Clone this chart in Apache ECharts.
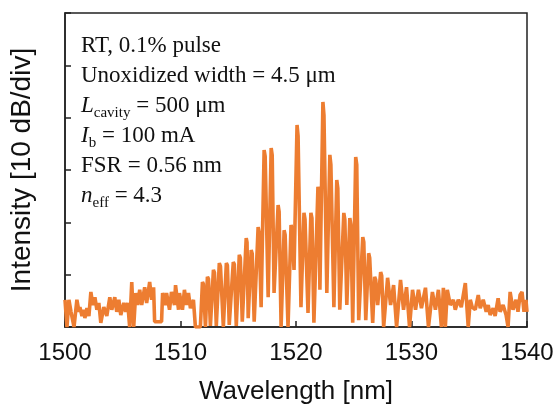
<!DOCTYPE html>
<html>
<head>
<meta charset="utf-8">
<script src="https://cdn.jsdelivr.net/npm/echarts@6/dist/echarts.min.js"></script>
<style>
  html, body { margin: 0; padding: 0; background: #fff; }
  #chart { width: 560px; height: 413px; }
</style>
</head>
<body>
<div id="chart"></div>
<script>
// spectrum: wavelength [nm] and intensity [dB above floor]
const wavelength = [
  // noise floor, short side
  1500.00, 1500.17, 1500.34, 1500.52, 1500.78, 1501.03, 1501.21, 1501.29, 1501.47, 1501.64,
  1501.72, 1501.90, 1502.07, 1502.24, 1502.41, 1502.59, 1502.76, 1502.93, 1503.10, 1503.36,
  1503.62, 1503.88, 1504.05, 1504.31, 1504.48, 1504.66, 1504.83, 1505.09, 1505.26, 1505.43,
  1505.60, 1505.78, 1505.95, 1506.12, 1506.29, 1506.47, 1506.64, 1506.90, 1507.07, 1507.33,
  1507.50, 1507.67, 1507.76, 1508.36, 1508.45, 1508.71, 1508.79, 1509.05, 1509.22, 1509.48,
  1509.57, 1509.83, 1509.91, 1510.17, 1510.34, 1510.52, 1510.69, 1510.86, 1511.12, 1511.29,
  1511.72,
  // longitudinal modes
  1511.90, 1511.98, 1512.16, 1512.33, 1512.42, 1512.59, 1512.85, 1512.94, 1513.10,
  1513.36, 1513.46, 1513.71, 1513.97, 1514.06, 1514.22, 1514.57, 1514.66, 1514.83,
  1515.09, 1515.18, 1515.35, 1515.69, 1515.76, 1515.86, 1516.12, 1516.21, 1516.38,
  1516.72, 1516.81, 1516.98, 1517.24, 1517.33, 1517.59, 1517.85, 1517.94, 1518.10,
  1518.45, 1518.54, 1518.71, 1518.97, 1519.06, 1519.31, 1519.57, 1519.66, 1519.83,
  1520.09, 1520.18, 1520.43, 1520.69, 1520.78, 1521.04, 1521.29, 1521.38, 1521.55,
  1521.90, 1521.97, 1522.07, 1522.33, 1522.42, 1522.67, 1522.93, 1523.02, 1523.28,
  1523.53, 1523.62, 1523.79, 1524.14, 1524.23, 1524.40, 1524.66, 1524.75, 1524.91,
  1525.17, 1525.26, 1525.43, 1525.78, 1525.87, 1526.04, 1526.29, 1526.38, 1526.64,
  1526.81, 1526.90, 1527.07, 1527.33, 1527.42, 1527.59,
  // noise floor, long side
  1527.93, 1528.19, 1528.45, 1528.71, 1529.05, 1529.31, 1529.57, 1529.83, 1530.09, 1530.35,
  1530.60, 1530.86, 1531.21, 1531.47, 1531.81, 1532.07, 1532.33, 1532.59, 1532.76, 1532.93,
  1533.10, 1533.36, 1533.62, 1533.79, 1534.05, 1534.31, 1534.66, 1534.91, 1535.09, 1535.26,
  1535.52, 1535.78, 1535.95, 1536.21, 1536.47, 1536.64, 1536.81, 1537.07, 1537.24, 1537.50,
  1537.67, 1537.93, 1538.19, 1538.36, 1538.54, 1538.79, 1539.05, 1539.22, 1539.40, 1539.57,
  1539.74, 1539.91, 1540.00
];
const intensity = [
  5.2, 0, 5.2, 2.9, 0, 5.2, 2.9, 3.8, 2.1, 3.3,
  1.7, 3.6, 2.1, 6.7, 4.2, 5.7, 3.3, 4.6, 0.8, 3.8,
  2.1, 5.7, 3.3, 5.7, 2.9, 5.2, 2.3, 4.6, 2.9, 4.6,
  0, 8.6, 0, 6.5, 4.2, 7.1, 4.2, 7.6, 4.6, 8.6,
  5.2, 7.6, 1.0, 1.0, 6.5, 4.2, 6.5, 3.3, 6.7, 4.2,
  8.0, 3.3, 6.5, 3.3, 7.1, 4.2, 6.5, 3.6, 5.2, 0,
  0,

  8.6, 8.2, 0, 9.6, 9.2, 0.2, 10.9, 10.4, 0.2,
  12.2, 11.6, 0, 12.2, 11.8, 0.4, 12.4, 12.0, 0.2,
  13.8, 13.2, 1.0, 17.0, 16.2, 1.7, 14.7, 14.0, 1.0,
  19.1, 18.0, 3.8, 33.8, 32.6, 5.7, 34.2, 32.8, 6.5,
  23.3, 22.0, 0, 18.5, 17.6, 0, 19.5, 18.6, 10.9,
  38.6, 36.5, 3.8, 21.8, 20.6, 2.7, 21.8, 20.8, 0.8,
  26.8, 25.0, 7.1, 43.0, 40.5, 6.5, 32.9, 31.0, 3.8,
  28.1, 26.5, 3.3, 21.8, 20.5, 4.2, 20.8, 19.6, 0.8,
  32.5, 31.0, 1.3, 17.2, 16.2, 1.3, 14.1, 13.2, 0.8,
  9.6, 9.0, 4.2, 10.5, 9.8, 0,

  9.4, 4.2, 8.0, 0, 9.0, 3.3, 7.6, 0, 7.1, 3.3,
  7.1, 3.6, 7.5, 0, 6.7, 3.3, 7.1, 0, 7.5, 0,
  7.1, 4.2, 5.2, 3.3, 5.2, 3.8, 8.4, 0, 5.2, 3.8,
  3.3, 6.1, 3.6, 5.2, 2.9, 4.2, 2.3, 3.6, 2.1, 5.5,
  2.9, 4.2, 2.3, 0, 6.7, 3.3, 5.2, 2.9, 6.1, 6.7,
  2.9, 5.2, 2.9
];

const xMin = 1500, xMax = 1540, xStep = 10;
const yMin = 0, yMax = 60, yStep = 10;   // 10 dB/div, 6 divisions

const notes = [
  'RT, 0.1% pulse',
  'Unoxidized width = 4.5 μm',
  '{i|L}{s|cavity} = 500 μm',
  '{i|I}{s|b} = 100 mA',
  'FSR = 0.56 nm',
  '{i|n}{s|eff} = 4.3'
];

const serif = '"Liberation Serif", "Times New Roman", serif';
const sans = '"Liberation Sans", Arial, sans-serif';

const chart = echarts.init(document.getElementById('chart'));
chart.setOption({
  animation: false,
  backgroundColor: '#fff',
  grid: {
    left: 63, right: 33, top: 13, bottom: 86,
    show: true, borderColor: '#222', borderWidth: 1.5
  },
  xAxis: {
    type: 'value',
    min: xMin, max: xMax, interval: xStep,
    name: 'Wavelength [nm]',
    nameLocation: 'middle',
    nameGap: 52,
    nameTextStyle: { fontFamily: sans, fontSize: 26, color: '#111' },
    axisLine: { show: true, lineStyle: { color: '#222', width: 1.5 } },
    axisTick: { inside: true, length: 6, lineStyle: { color: '#222', width: 1.5 } },
    axisLabel: {
      fontFamily: sans, fontSize: 24, color: '#111', margin: 14,
      formatter: v => String(v)
    },
    splitLine: { show: false }
  },
  yAxis: {
    type: 'value',
    min: yMin, max: yMax, interval: yStep,
    name: 'Intensity [10 dB/div]',
    nameLocation: 'middle',
    nameGap: 29,
    nameTextStyle: { fontFamily: sans, fontSize: 28, color: '#111' },
    axisLine: { show: true, lineStyle: { color: '#222', width: 1.5 } },
    axisTick: { inside: true, length: 6, lineStyle: { color: '#222', width: 1.5 } },
    axisLabel: { show: false },
    splitLine: { show: false }
  },
  series: [{
    type: 'line',
    data: wavelength.map((w, i) => [w, intensity[i]]),
    showSymbol: false,
    clip: true,
    lineStyle: { color: '#ED7D31', width: 3.6 },
    z: 1
  }],
  graphic: [{
    type: 'text',
    left: 81,
    top: 31,
    z: 10,
    style: {
      text: notes.join('\n'),
      fontFamily: serif,
      fontSize: 23,
      lineHeight: 30,
      fill: '#111',
      rich: {
        i: { fontFamily: serif, fontSize: 23, fontStyle: 'italic', lineHeight: 30, fill: '#111' },
        s: { fontFamily: serif, fontSize: 15, lineHeight: 22, verticalAlign: 'bottom', fill: '#111' }
      }
    }
  }]
});
</script>
</body>
</html>
